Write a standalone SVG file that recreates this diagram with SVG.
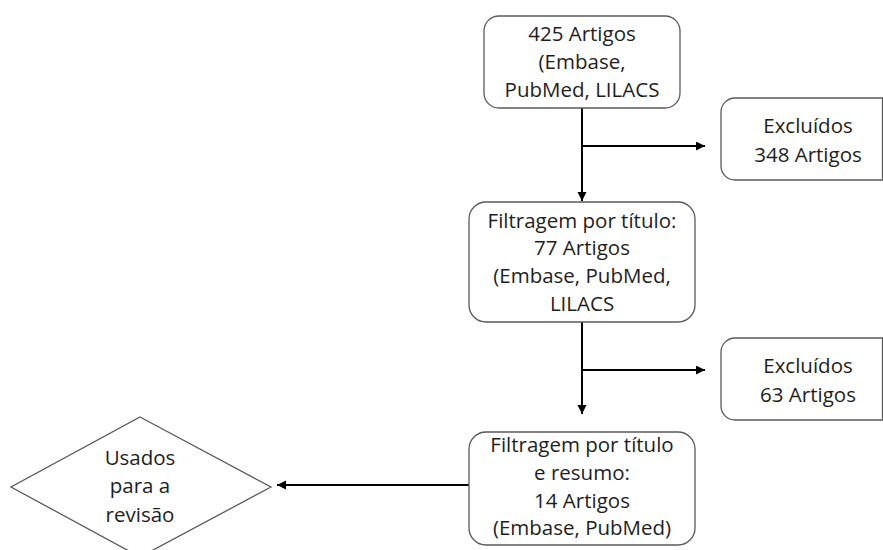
<svg xmlns="http://www.w3.org/2000/svg" width="883" height="550" viewBox="0 0 883 550">
<style>
.box{fill:#fff;stroke:#5a5a5a;stroke-width:1.3}
.t{font-family:"Open Sans","Liberation Sans",sans-serif;font-size:20.5px;fill:#1e1e1e;text-anchor:middle}
.c{fill:none;stroke:#000;stroke-width:2}
</style>
<defs>
<marker id="ah" markerUnits="userSpaceOnUse" markerWidth="10" markerHeight="10" refX="9" refY="4.5" orient="auto">
<path d="M0,0 L9,4.5 L0,9 z" fill="#000"/>
</marker>
</defs>
<rect width="883" height="550" fill="#fff"/>
<g id="connectors">
<line class="c" x1="582" y1="108" x2="582" y2="201" marker-end="url(#ah)"/>
<line class="c" x1="582" y1="146" x2="705" y2="146" marker-end="url(#ah)"/>
<line class="c" x1="582" y1="322" x2="582" y2="414" marker-end="url(#ah)"/>
<line class="c" x1="582" y1="370" x2="705" y2="370" marker-end="url(#ah)"/>
<line class="c" x1="469" y1="485" x2="277" y2="485" marker-end="url(#ah)"/>
</g>
<g id="n1">
<rect class="box" x="484" y="16" width="196" height="92" rx="15"/>
<text class="t" x="582" y="41">425 Artigos</text>
<text class="t" x="582" y="69">(Embase,</text>
<text class="t" x="582" y="97">PubMed, LILACS</text>
</g>
<g id="n2">
<path class="box" d="M735,98 H882.5 V180 H735 A14,14 0 0 1 721,166 V112 A14,14 0 0 1 735,98 Z"/>
<text class="t" x="808" y="133">Excluídos</text>
<text class="t" x="808" y="162">348 Artigos</text>
</g>
<g id="n3">
<rect class="box" x="469" y="202" width="226" height="120" rx="17"/>
<text class="t" x="582" y="228">Filtragem por título:</text>
<text class="t" x="582" y="255">77 Artigos</text>
<text class="t" x="582" y="283">(Embase, PubMed,</text>
<text class="t" x="582" y="311">LILACS</text>
</g>
<g id="n4">
<path class="box" d="M735,338 H882.5 V420 H735 A14,14 0 0 1 721,406 V352 A14,14 0 0 1 735,338 Z"/>
<text class="t" x="808" y="373">Excluídos</text>
<text class="t" x="808" y="402">63 Artigos</text>
</g>
<g id="n5">
<rect class="box" x="469" y="432" width="226" height="113" rx="17"/>
<text class="t" x="582" y="452">Filtragem por título</text>
<text class="t" x="582" y="480">e resumo:</text>
<text class="t" x="582" y="508">14 Artigos</text>
<text class="t" x="582" y="535">(Embase, PubMed)</text>
</g>
<g id="n6">
<polygon class="box" points="140,417 271,487 140,557 11,487"/>
<text class="t" x="140" y="465">Usados</text>
<text class="t" x="140" y="493">para a</text>
<text class="t" x="140" y="522">revisão</text>
</g>
</svg>
